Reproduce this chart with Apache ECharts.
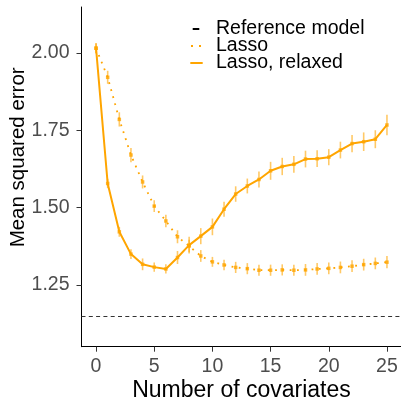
<!DOCTYPE html>
<html>
<head>
<meta charset="utf-8">
<script src="https://cdn.jsdelivr.net/npm/echarts@6/dist/echarts.min.js"></script>
<style>
  html, body { margin: 0; padding: 0; background: #fff; }
  #chart { width: 401px; height: 398px; }
</style>
</head>
<body>
<div id="chart"></div>
<script>
// Model size (number of covariates) on the x axis
const covariates = [0, 1, 2, 3, 4, 5, 6, 7, 8, 9, 10, 11, 12, 13, 14, 15, 16, 17, 18, 19, 20, 21, 22, 23, 24, 25];

// Mean squared error of the plain lasso path, with standard errors
const lassoMSE = [2.015, 1.921, 1.785, 1.670, 1.583, 1.505, 1.457, 1.406, 1.376, 1.344, 1.325, 1.315, 1.307,
                  1.303, 1.298, 1.298, 1.299, 1.298, 1.299, 1.302, 1.304, 1.307, 1.311, 1.316, 1.320, 1.324];
const lassoSE = [0.016, 0.021, 0.023, 0.023, 0.021, 0.019, 0.020, 0.021, 0.020, 0.019, 0.016, 0.017, 0.018,
                 0.018, 0.018, 0.018, 0.018, 0.018, 0.019, 0.019, 0.019, 0.019, 0.019, 0.019, 0.019, 0.020];

// Mean squared error of the relaxed lasso, with standard errors
const relaxedMSE = [2.015, 1.578, 1.422, 1.350, 1.317, 1.308, 1.302, 1.339, 1.379, 1.408, 1.438, 1.495, 1.544,
                    1.570, 1.591, 1.619, 1.633, 1.640, 1.657, 1.658, 1.663, 1.686, 1.707, 1.713, 1.721, 1.767];
const relaxedSE = [0.016, 0.015, 0.016, 0.016, 0.019, 0.015, 0.015, 0.021, 0.027, 0.026, 0.027, 0.024, 0.025,
                   0.024, 0.026, 0.029, 0.028, 0.027, 0.027, 0.027, 0.026, 0.027, 0.028, 0.030, 0.029, 0.033];

// Error of the reference model
const referenceMSE = 1.148;

// Tick positions
const xTicks = [0, 5, 10, 15, 20, 25];
const yTicks = [1.25, 1.50, 1.75, 2.00];

const ORANGE = '#FFA500';
const FONT = "'Liberation Sans', Arial, Helvetica, sans-serif";

const pairs = (ys) => covariates.map((x, i) => [x, ys[i]]);
const barData = (ys, se) => covariates.map((x, i) => [x, ys[i] - se[i], ys[i] + se[i]]);

function errorBarSeries(ys, se) {
  return {
    type: 'custom',
    silent: true,
    data: barData(ys, se),
    encode: { x: 0, y: [1, 2] },
    z: 3,
    renderItem: function (params, api) {
      const lo = api.coord([api.value(0), api.value(1)]);
      const hi = api.coord([api.value(0), api.value(2)]);
      return {
        type: 'line',
        shape: { x1: lo[0], y1: lo[1], x2: hi[0], y2: hi[1] },
        style: { stroke: 'rgba(255,165,0,0.6)', lineWidth: 1.6 }
      };
    }
  };
}

const chart = echarts.init(document.getElementById('chart'), null, { renderer: 'canvas' });

chart.setOption({
  animation: false,
  backgroundColor: '#ffffff',
  textStyle: { fontFamily: FONT },
  grid: { left: 81.5, top: 7, width: 320, height: 339.7, containLabel: false, outerBoundsMode: 'none' },
  legend: {
    data: ['Reference model', 'Lasso', 'Lasso, relaxed'],
    orient: 'vertical',
    left: 189.3,
    top: 19,
    padding: 0,
    itemGap: -3,
    itemWidth: 20.7,
    itemHeight: 18,
    selectedMode: false,
    // keys are drawn as line samples only, no marker
    itemStyle: { opacity: 0 },
    textStyle: { fontFamily: FONT, fontSize: 19.5, color: '#000', lineHeight: 18 }
  },
  xAxis: {
    type: 'value',
    min: -1.25,
    max: 26.25,
    name: 'Number of covariates',
    nameLocation: 'middle',
    nameGap: 32,
    nameMoveOverlap: false,
    nameTextStyle: { fontFamily: FONT, fontSize: 23, color: '#000' },
    axisLine: { show: true, onZero: false, lineStyle: { color: '#000', width: 1 } },
    axisTick: { show: true, length: 5, customValues: xTicks, lineStyle: { color: '#333' } },
    axisLabel: { customValues: xTicks, margin: 10, fontFamily: FONT, fontSize: 19.5, color: '#4D4D4D' },
    splitLine: { show: false }
  },
  yAxis: {
    type: 'value',
    min: 1.051,
    max: 2.148,
    name: 'Mean squared error',
    nameLocation: 'middle',
    nameGap: 53,
    nameRotate: 90,
    nameMoveOverlap: false,
    nameTextStyle: { fontFamily: FONT, fontSize: 20.5, color: '#000', padding: [0, 0, 0, 39] },
    axisLine: { show: true, onZero: false, lineStyle: { color: '#000', width: 1 } },
    axisTick: { show: true, length: 5, customValues: yTicks, lineStyle: { color: '#333' } },
    axisLabel: {
      customValues: yTicks, margin: 12, fontFamily: FONT, fontSize: 19.5, color: '#4D4D4D',
      formatter: (v) => v.toFixed(2)
    },
    splitLine: { show: false }
  },
  series: [
    {
      name: 'Reference model',
      type: 'line',
      data: [],
      symbol: 'none',
      color: '#000',
      lineStyle: { color: '#000', width: 2, type: [6.6, 30], dashOffset: 34.2 },
      markLine: {
        silent: true,
        symbol: 'none',
        label: { show: false },
        lineStyle: { color: '#333', width: 1, type: [4, 3.3] },
        data: [{ yAxis: referenceMSE }]
      }
    },
    {
      // legend key: two dots
      name: 'Lasso',
      type: 'line',
      data: [],
      symbol: 'none',
      color: ORANGE,
      lineStyle: { color: ORANGE, width: 2, type: [2, 6, 2, 30], dashOffset: 39.3 }
    },
    {
      // legend key: short solid stroke
      name: 'Lasso, relaxed',
      type: 'line',
      data: [],
      symbol: 'none',
      color: ORANGE,
      lineStyle: { color: ORANGE, width: 2, type: [12.4, 30], dashOffset: 0 }
    },
    {
      type: 'line',
      data: pairs(lassoMSE),
      symbol: 'none',
      silent: true,
      z: 2,
      lineStyle: { color: ORANGE, width: 1.8, type: [1.8, 5.5] }
    },
    {
      type: 'line',
      data: pairs(relaxedMSE),
      symbol: 'none',
      silent: true,
      z: 2,
      lineStyle: { color: ORANGE, width: 2, type: 'solid' }
    },
    errorBarSeries(lassoMSE, lassoSE),
    errorBarSeries(relaxedMSE, relaxedSE),
    {
      type: 'scatter',
      data: pairs(lassoMSE),
      symbol: 'rect',
      symbolSize: 3.5,
      silent: true,
      z: 4,
      itemStyle: { color: ORANGE }
    },
    {
      type: 'scatter',
      data: pairs(relaxedMSE),
      symbol: 'rect',
      symbolSize: 3.5,
      silent: true,
      z: 4,
      itemStyle: { color: ORANGE }
    }
  ]
});
</script>
</body>
</html>
